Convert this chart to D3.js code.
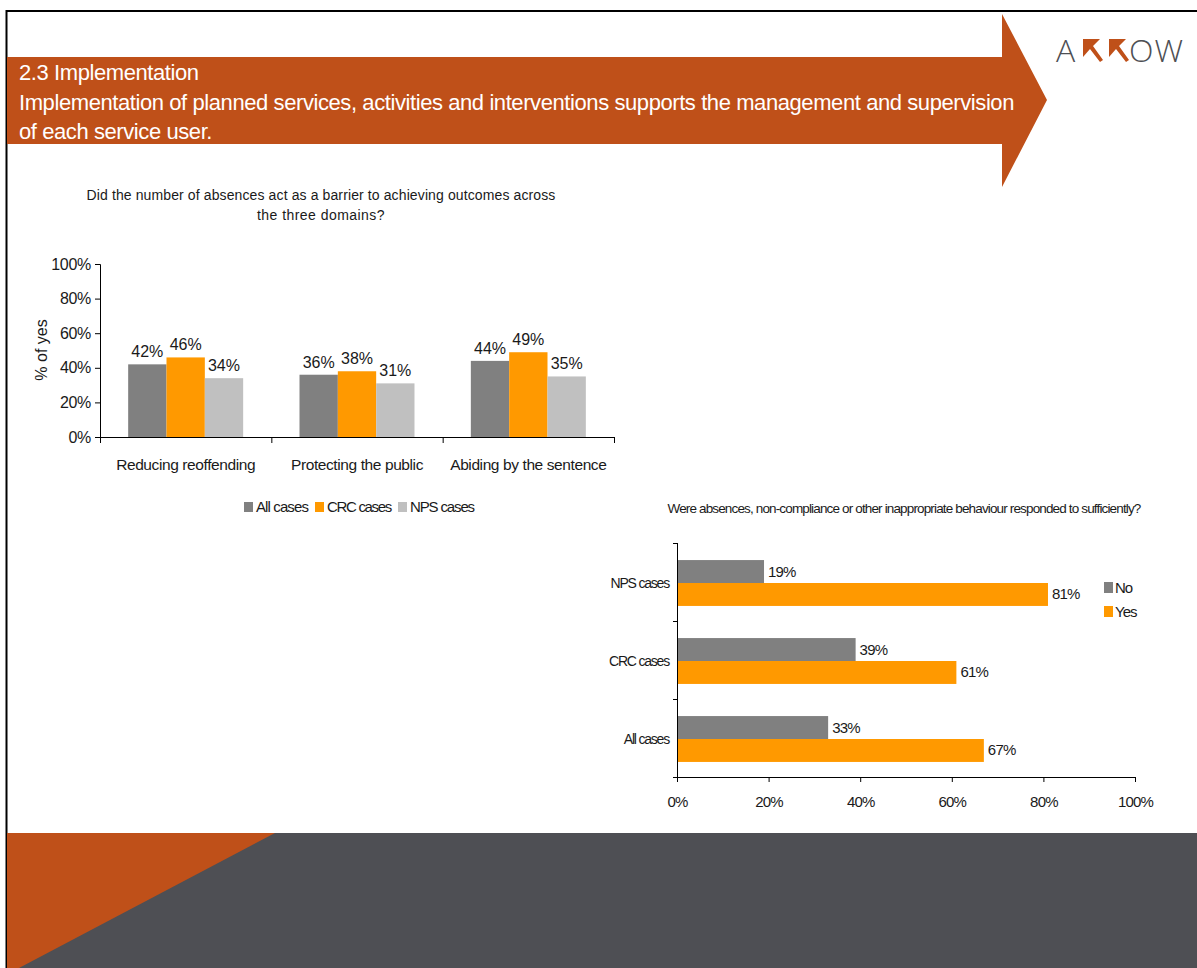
<!DOCTYPE html>
<html>
<head>
<meta charset="utf-8">
<script src="https://cdn.jsdelivr.net/npm/d3@7"></script>
<style>
  html, body { margin: 0; padding: 0; background: #fff; }
  svg { display: block; }
</style>
</head>
<body>
<svg id="slide" width="1197" height="968"></svg>
<script>
// ---- Data: absences as a barrier (% of yes) ----
const domains = ["Reducing reoffending", "Protecting the public", "Abiding by the sentence"];
const caseGroups = ["All cases", "CRC cases", "NPS cases"];
const allCasesYes = [42, 36, 44];
const crcCasesYes = [46, 38, 49];
const npsCasesYes = [34, 31, 35];
const percentTicks = [0, 20, 40, 60, 80, 100];

// ---- Data: responses to absences / non-compliance ----
const caseTypes = ["NPS cases", "CRC cases", "All cases"];
const responses = ["No", "Yes"];
const noValues = [19, 39, 33];
const yesValues = [81, 61, 67];

// ---- Style ----
const BRAND = "#BF5019";
const SLATE = "#4E4F54";
const groupColors = ["#808080", "#FF9900", "#C0C0C0"];
const responseColors = ["#808080", "#FF9900"];
const NARROW = "'Liberation Sans Narrow','Liberation Sans',Arial,sans-serif";
const TEXT = "#1a1a1a";

const svg = d3.select("#slide");

// Tighten a text's letter spacing so that it spans the given width.
function fitWidth(sel, width) {
  sel.attr("letter-spacing", 0);
  const natural = sel.node().getComputedTextLength();
  const n = sel.text().length;
  sel.attr("letter-spacing", ((width - natural) / n).toFixed(3));
  return sel;
}

// ---- Slide frame ----
svg.append("line").attr("x1", 6).attr("x2", 1197).attr("y1", 11).attr("y2", 11)
  .attr("stroke", "#000").attr("stroke-width", 2);
svg.append("line").attr("x1", 6.5).attr("x2", 6.5).attr("y1", 10).attr("y2", 968)
  .attr("stroke", "#000").attr("stroke-width", 2);

// ---- Header arrow banner ----
svg.append("path")
  .attr("d", "M7,57 H1002 V14 L1047,100 L1002,187 V144 H7 Z")
  .attr("fill", BRAND);

const headerLines = [
  "2.3 Implementation",
  "Implementation of planned services, activities and interventions supports the management and supervision",
  "of each service user."
];
const headerY = [80, 110, 139];
const headerText = svg.append("g").selectAll("text").data(headerLines).join("text")
  .attr("x", 19).attr("y", (d, i) => headerY[i])
  .attr("fill", "#fff").attr("font-family", NARROW).attr("font-size", 22)
  .text(d => d);
// the long line sets the spacing used by all three lines
const mid = fitWidth(d3.select(headerText.nodes()[1]), 995);
headerText.attr("letter-spacing", mid.attr("letter-spacing"));

// ---- Logo ----
const logo = svg.append("g");
const LOGO_FONT = "'Open Sans','DejaVu Sans',sans-serif";
logo.append("text").attr("x", 1056).attr("y", 62).attr("fill", SLATE)
  .attr("font-family", LOGO_FONT).attr("font-weight", 300)
  .attr("font-size", 32).text("A");
logo.append("text").attr("x", 1129).attr("y", 62).attr("fill", SLATE)
  .attr("font-family", LOGO_FONT).attr("font-weight", 300)
  .attr("font-size", 32).attr("letter-spacing", 1).text("OW");
[1083, 1109].forEach(x0 => {
  logo.append("path")
    .attr("d", `M${x0},39 H${x0 + 17} L${x0 + 10},46 L${x0 + 20},60 L${x0 + 17},62 L${x0 + 7},49 L${x0},57 Z`)
    .attr("fill", BRAND);
});

// ---- Chart 1: grouped columns ----
const c1 = svg.append("g");
fitWidth(c1.append("text").attr("x", 321).attr("y", 200).attr("text-anchor", "middle")
  .attr("font-family", NARROW).attr("font-size", 14).attr("fill", TEXT)
  .text("Did the number of absences act  as a barrier to achieving outcomes across"), 469);
fitWidth(c1.append("text").attr("x", 321).attr("y", 220).attr("text-anchor", "middle")
  .attr("font-family", NARROW).attr("font-size", 14).attr("fill", TEXT)
  .text("the three domains?"), 128);

const x0 = d3.scaleBand().domain(domains).range([100, 614]);
const x1 = d3.scaleBand().domain(caseGroups).range([0, x0.bandwidth()]).paddingOuter(0.735);
const y1 = d3.scaleLinear().domain([0, 100]).range([437, 264]);

const seriesByGroup = [allCasesYes, crcCasesYes, npsCasesYes];
const barData = [];
domains.forEach((dom, i) => caseGroups.forEach((g, j) => barData.push({ dom, g, j, v: seriesByGroup[j][i] })));

c1.append("g").selectAll("rect").data(barData).join("rect")
  .attr("x", d => x0(d.dom) + x1(d.g))
  .attr("width", x1.bandwidth())
  .attr("y", d => y1(d.v))
  .attr("height", d => y1(0) - y1(d.v))
  .attr("fill", d => groupColors[d.j]);

c1.append("g").selectAll("text").data(barData).join("text")
  .attr("x", d => x0(d.dom) + x1(d.g) + x1.bandwidth() / 2)
  .attr("y", d => y1(d.v) - 7)
  .attr("text-anchor", "middle")
  .attr("font-family", NARROW).attr("font-size", 16).attr("fill", TEXT)
  .text(d => d.v + "%");

// y axis
const yAxis1 = c1.append("g").attr("transform", "translate(100,0)")
  .call(d3.axisLeft(y1).tickValues(percentTicks).tickSize(5).tickPadding(4).tickFormat(d => d + "%"));
yAxis1.select(".domain").attr("stroke", "#000");
yAxis1.selectAll(".tick line").attr("stroke", "#000");
yAxis1.selectAll("text").attr("font-family", NARROW).attr("font-size", 16)
  .attr("letter-spacing", -0.3).attr("fill", TEXT);

c1.append("text").attr("transform", "translate(47,350) rotate(-90)")
  .attr("text-anchor", "middle").attr("font-family", NARROW).attr("font-size", 16)
  .attr("fill", TEXT).text("% of yes");

// x axis with separators between categories
c1.append("line").attr("x1", 100).attr("x2", 614).attr("y1", y1(0) + 0.5).attr("y2", y1(0) + 0.5)
  .attr("stroke", "#000");
const sepX = domains.map(d => x0(d)).concat([x0.range()[1]]);
c1.append("g").selectAll("line").data(sepX).join("line")
  .attr("x1", d => d + 0.5).attr("x2", d => d + 0.5)
  .attr("y1", y1(0)).attr("y2", y1(0) + 6).attr("stroke", "#000");
c1.append("g").selectAll("text").data(domains).join("text")
  .attr("x", d => x0(d) + x0.bandwidth() / 2).attr("y", 470)
  .attr("text-anchor", "middle").attr("font-family", NARROW).attr("font-size", 15.5)
  .attr("fill", TEXT).attr("letter-spacing", -0.4).text(d => d);

// legend
const legend1X = [244, 315, 398];
const legend1W = [52, 64, 64];
const lg1 = c1.append("g").selectAll("g").data(caseGroups).join("g")
  .attr("transform", (d, i) => `translate(${legend1X[i]},502)`);
lg1.append("rect").attr("width", 9).attr("height", 10).attr("fill", (d, i) => groupColors[i]);
lg1.append("text").attr("x", 12).attr("y", 10).attr("font-family", NARROW).attr("font-size", 15)
  .attr("fill", TEXT).text(d => d)
  .each(function (d, i) { fitWidth(d3.select(this), legend1W[i]); });

// ---- Chart 2: horizontal grouped bars ----
const c2 = svg.append("g");
fitWidth(c2.append("text").attr("x", 904).attr("y", 513).attr("text-anchor", "middle")
  .attr("font-family", NARROW).attr("font-size", 13.5).attr("fill", TEXT)
  .text("Were absences, non-compliance or other inappropriate behaviour responded to sufficiently?"), 473);

const yb = d3.scaleBand().domain(caseTypes).range([543, 777]);
const yr = d3.scaleBand().domain(responses).range([0, yb.bandwidth()]).paddingOuter(0.7);
const xb = d3.scaleLinear().domain([0, 100]).range([677, 1135]);

const hData = [];
caseTypes.forEach((c, i) => {
  hData.push({ c, r: "No", k: 0, v: noValues[i] });
  hData.push({ c, r: "Yes", k: 1, v: yesValues[i] });
});

c2.append("g").selectAll("rect").data(hData).join("rect")
  .attr("x", xb(0))
  .attr("y", d => yb(d.c) + yr(d.r) + 1)
  .attr("width", d => xb(d.v) - xb(0))
  .attr("height", yr.bandwidth())
  .attr("fill", d => responseColors[d.k]);

c2.append("g").selectAll("text").data(hData).join("text")
  .attr("x", d => xb(d.v) + 4)
  .attr("y", d => yb(d.c) + yr(d.r) + 1 + yr.bandwidth() / 2 + 5)
  .attr("font-family", NARROW).attr("font-size", 15).attr("letter-spacing", -0.8)
  .attr("fill", TEXT).text(d => d.v + "%");

// x axis
const xAxis2 = c2.append("g").attr("transform", "translate(0,777)")
  .call(d3.axisBottom(xb).tickValues(percentTicks).tickSize(5).tickPadding(14).tickFormat(d => d + "%"));
xAxis2.select(".domain").attr("stroke", "#000");
xAxis2.selectAll(".tick line").attr("stroke", "#000");
xAxis2.selectAll("text").attr("font-family", NARROW).attr("font-size", 15)
  .attr("letter-spacing", -0.8).attr("fill", TEXT);

// y axis with separators between categories
c2.append("line").attr("x1", 677.5).attr("x2", 677.5).attr("y1", 543).attr("y2", 777)
  .attr("stroke", "#000");
const sepY = caseTypes.map(c => yb(c)).concat([yb.range()[1]]);
c2.append("g").selectAll("line").data(sepY).join("line")
  .attr("x1", 673).attr("x2", 677).attr("y1", d => d + 0.5).attr("y2", d => d + 0.5)
  .attr("stroke", "#000");
c2.append("g").selectAll("text").data(caseTypes).join("text")
  .attr("x", 669).attr("y", d => yb(d) + yb.bandwidth() / 2 + 6)
  .attr("text-anchor", "end").attr("font-family", NARROW).attr("font-size", 14)
  .attr("letter-spacing", -1.2).attr("fill", TEXT).text(d => d);

// legend
const lg2 = c2.append("g").selectAll("g").data(responses).join("g")
  .attr("transform", (d, i) => `translate(1104,${582 + i * 24})`);
lg2.append("rect").attr("width", 9).attr("height", 11).attr("fill", (d, i) => responseColors[i]);
lg2.append("text").attr("x", 11).attr("y", 11).attr("font-family", NARROW).attr("font-size", 15)
  .attr("letter-spacing", -1).attr("fill", TEXT).text(d => d);

// ---- Footer band ----
svg.append("rect").attr("x", 7).attr("y", 833).attr("width", 1190).attr("height", 135).attr("fill", SLATE);
svg.append("path").attr("d", "M7,833 H275 L19,968 H7 Z").attr("fill", BRAND);
</script>
</body>
</html>
